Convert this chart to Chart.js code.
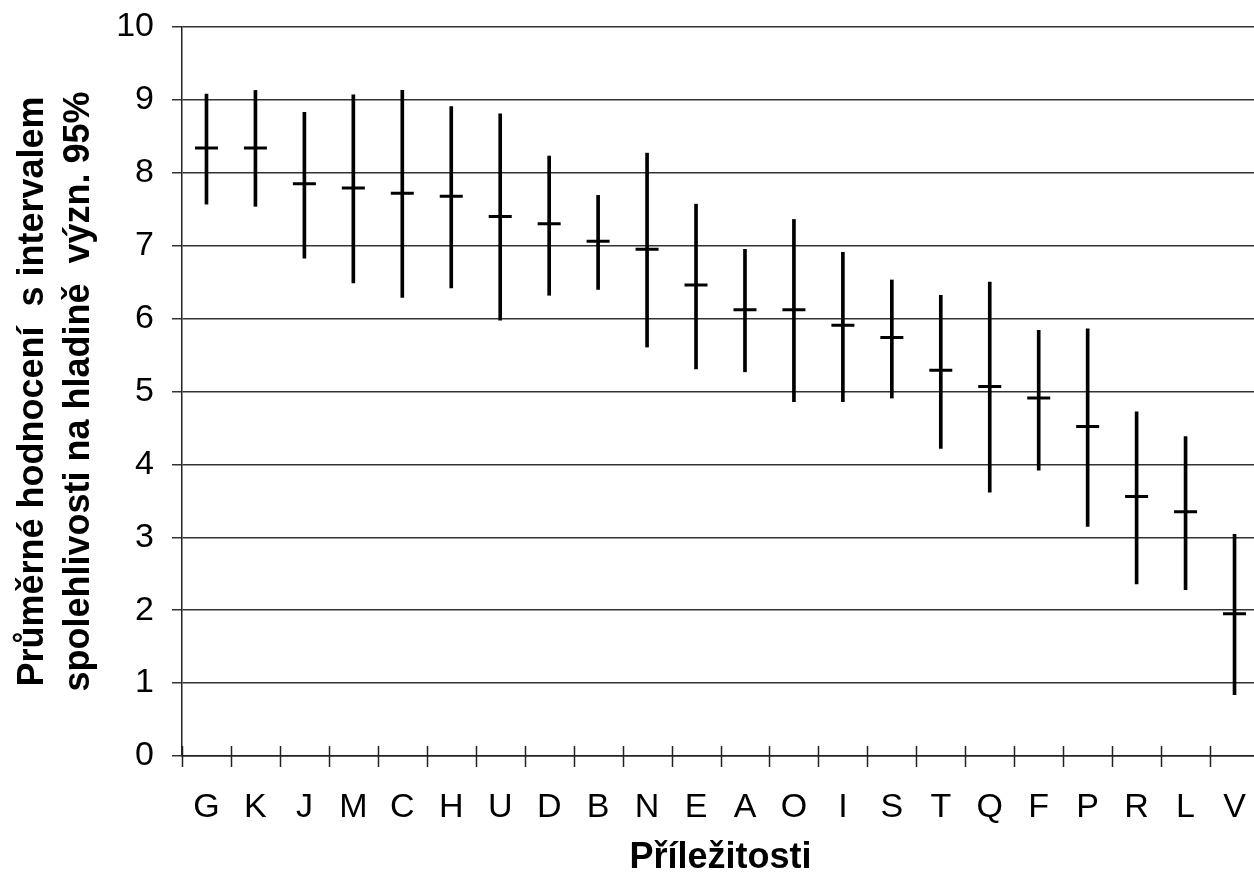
<!DOCTYPE html>
<html>
<head>
<meta charset="utf-8">
<script src="https://cdn.jsdelivr.net/npm/chart.js@4/dist/chart.umd.min.js"></script>
<style>
    html, body { margin: 0; padding: 0; background: #fff; overflow: hidden; }
    canvas { display: block; }
</style>
</head>
<body>
<canvas id="ciChart" width="1259" height="886"></canvas>
<script>
// data
const categories = ["G", "K", "J", "M", "C", "H", "U", "D", "B", "N", "E", "A", "O", "I", "S", "T", "Q", "F", "P", "R", "L", "V"];
const means = [8.34, 8.34, 7.85, 7.79, 7.72, 7.68, 7.40, 7.30, 7.06, 6.95, 6.46, 6.12, 6.12, 5.91, 5.74, 5.29, 5.07, 4.91, 4.52, 3.56, 3.35, 1.95];
const lower = [7.57, 7.54, 6.83, 6.49, 6.29, 6.42, 5.98, 6.32, 6.40, 5.61, 5.31, 5.27, 4.86, 4.86, 4.91, 4.22, 3.62, 3.92, 3.15, 2.36, 2.28, 0.84];
const upper = [9.08, 9.13, 8.83, 9.07, 9.13, 8.91, 8.81, 8.23, 7.69, 8.27, 7.57, 6.95, 7.36, 6.91, 6.53, 6.32, 6.50, 5.84, 5.86, 4.72, 4.38, 3.04];
const yMin = 0, yMax = 10, yStep = 1;

const FONT = "'Liberation Sans', Arial, sans-serif";

// x axis tick marks crossing the axis line
const crossTicks = {
    id: "crossTicks",
    afterDraw(chart) {
        const xs = chart.scales.x;
        const base = chart.scales.y.getPixelForValue(yMin);
        const ctx = chart.ctx;
        ctx.save();
        ctx.strokeStyle = "#222";
        ctx.lineWidth = 1.5;
        ctx.beginPath();
        for (let i = 0; i <= categories.length; i++) {
            const px = Math.round(xs.getPixelForValue(i - 0.5)) + 0.5;
            ctx.moveTo(px, base - 10);
            ctx.lineTo(px, base + 11);
        }
        ctx.stroke();
        ctx.restore();
    }
};

new Chart(document.getElementById("ciChart").getContext("2d"), {
    type: "bar",
    data: {
        labels: categories,
        datasets: [
            {
                type: "line",
                label: "průměr",
                data: means,
                showLine: false,
                pointStyle: "line",
                pointRadius: 11.5,
                pointBorderWidth: 3,
                borderColor: "#000",
                pointBorderColor: "#000"
            },
            {
                label: "interval",
                data: lower.map((l, i) => [l, upper[i]]),
                backgroundColor: "#000",
                barThickness: 3
            }
        ]
    },
    options: {
        responsive: false,
        animation: false,
        devicePixelRatio: 1,
        layout: { autoPadding: false, padding: { top: 27, right: 0, bottom: 0, left: 0 } },
        plugins: {
            legend: { display: false },
            tooltip: { enabled: false }
        },
        scales: {
            x: {
                offset: true,
                grid: { display: false, drawTicks: false },
                border: { display: true, color: "#222", width: 1.5 },
                ticks: {
                    color: "#000",
                    padding: 31,
                    font: { family: FONT, size: 34 }
                },
                title: {
                    display: true,
                    text: "Příležitosti",
                    color: "#000",
                    padding: { top: 0, bottom: 6 },
                    font: { family: FONT, size: 36, weight: "bold" }
                },
                afterFit: scale => {
                    scale.height = 130;
                    scale.paddingLeft = 0;
                    scale.paddingRight = 0;
                }
            },
            y: {
                min: yMin,
                max: yMax,
                ticks: {
                    stepSize: yStep,
                    color: "#000",
                    padding: 18,
                    font: { family: FONT, size: 34 }
                },
                grid: { color: "#333", lineWidth: 1.5, tickLength: 10 },
                border: { display: true, color: "#222", width: 1.5 },
                title: {
                    display: true,
                    text: ["Průměrné hodnocení  s intervalem", "spolehlivosti na hladině  význ. 95%"],
                    color: "#000",
                    padding: { top: 10, bottom: 0 },
                    font: { family: FONT, size: 36, weight: "bold", lineHeight: 1.28 }
                },
                afterFit: scale => {
                    scale.width = 182;
                    scale.paddingTop = 0;
                    scale.paddingBottom = 0;
                }
            }
        }
    },
    plugins: [crossTicks]
});
</script>
</body>
</html>
